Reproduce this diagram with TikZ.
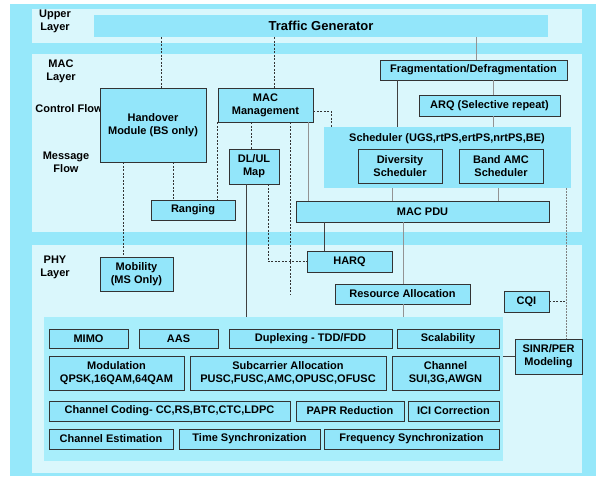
\documentclass[tikz,border=0pt]{standalone}
\usepackage{fontspec}
\setmainfont{Liberation Sans}
\definecolor{outerc}{HTML}{96E8FA}
\definecolor{panelc}{HTML}{DAF7FC}
\definecolor{boxc}{HTML}{93E6FA}
\definecolor{innerc}{HTML}{A8EEFB}
\tikzset{
  boxst/.style={draw=black!80, line width=0.7pt, fill=boxc, inner sep=0pt, align=center,
    font=\fontsize{11}{13}\selectfont\bfseries},
  flatbox/.style={boxst, draw=none},
  lbl/.style={align=center, inner sep=0pt, font=\fontsize{11}{13}\selectfont\bfseries},
  dline/.style={draw=black!75, line width=0.8pt},
  gline/.style={draw=gray!85, line width=0.8pt},
  dsh/.style={draw=black!80, dash pattern=on 2pt off 1.5pt, line width=0.5pt},
  dotln/.style={draw=gray, dash pattern=on 1.5pt off 1.5pt, line width=0.9pt},
}
\newcommand\mkbox[7][]{\node[boxst,#1,minimum width={#5-#3},minimum height={#6-#4}] (#2) at ({(#3+#5)/2},{(#4+#6)/2}) {#7};}
\begin{document}
\begin{tikzpicture}[x=1pt,y=-1pt]
\useasboundingbox (0,0) rectangle (596,476);
% backgrounds
\fill[outerc] (10,4) rectangle (596,476);
\fill[panelc] (32,9) rectangle (582,43);
\fill[panelc] (32,54) rectangle (582,232);
\fill[panelc] (32,245) rectangle (582,473);
% layer labels
\node[lbl] (lupper) at (55,21) {Upper\\Layer};
\node[lbl] (lmac) at (61,71) {MAC\\Layer};
\node[lbl] (lctrl) at (69,109) {Control Flow};
\node[lbl] (lmsg) at (66,162) {Message\\Flow};
\node[lbl] (lphy) at (55,267) {PHY\\Layer};
% upper
\mkbox[flatbox,font=\fontsize{13}{15}\selectfont\bfseries]{tg}{94}{15}{548}{37}{Traffic Generator}
% MAC
\mkbox{ho}{100}{88}{206}{162}{Handover\\Module (BS only)}
\mkbox{mm}{218}{88}{313}{122}{MAC\\Management}
\mkbox{map}{229}{149}{279}{184}{DL/UL\\Map}
\mkbox{rng}{151}{200}{235}{220}{Ranging}
\mkbox{frag}{380}{60}{567}{80}{Fragmentation/Defragmentation}
\mkbox{arq}{419}{95}{560}{116}{ARQ (Selective repeat)}
\mkbox[flatbox]{sch}{324}{127}{571}{188}{}
\node[lbl] (schtitle) at (447,139) {Scheduler (UGS,rtPS,ertPS,nrtPS,BE)};
\mkbox{div}{358}{149}{442}{183}{Diversity\\Scheduler}
\mkbox{amc}{459}{149}{543}{183}{Band AMC\\Scheduler}
\mkbox{pdu}{296}{201}{549}{222}{MAC PDU}
% PHY
\mkbox{mob}{100}{257}{173}{291}{Mobility\\(MS Only)}
\mkbox{harq}{307}{251}{392}{272}{HARQ}
\mkbox{ra}{335}{284}{470}{304}{Resource Allocation}
\mkbox{cqi}{504}{291}{549}{312}{CQI}
\mkbox{sinr}{515}{339}{582}{374}{SINR/PER\\Modeling}
\mkbox[draw=none,fill=innerc]{phy}{44}{317}{503}{461}{}
\mkbox{mimo}{49}{329}{128}{348}{MIMO}
\mkbox{aas}{139}{329}{218}{348}{AAS}
\mkbox{dup}{229}{329}{392}{348}{Duplexing - TDD/FDD}
\mkbox{scal}{397}{329}{499}{348}{Scalability}
\mkbox{modu}{49}{356}{184}{390}{Modulation\\QPSK,16QAM,64QAM}
\mkbox{sub}{190}{356}{386}{390}{Subcarrier Allocation\\PUSC,FUSC,AMC,OPUSC,OFUSC}
\mkbox{chan}{392}{356}{499}{390}{Channel\\SUI,3G,AWGN}
\mkbox{cc}{49}{401}{290}{421}{Channel Coding- CC,RS,BTC,CTC,LDPC}
\mkbox{papr}{296}{401}{404}{421}{PAPR Reduction}
\mkbox{ici}{408}{401}{499}{421}{ICI Correction}
\mkbox{ce}{49}{429}{173}{449}{Channel Estimation}
\mkbox{ts}{179}{429}{320}{449}{Time Synchronization}
\mkbox{fs}{324}{429}{499}{449}{Frequency Synchronization}
% connectors
\draw[gline] (tg.south -| 476,0) -- (frag.north -| 476,0);
\draw[dsh] (tg.south -| 161,0) -- (ho.north -| 161,0);
\draw[dsh] (tg.south -| 274,0) -- (mm.north -| 274,0);
\draw[gline] (frag.south -| 493,0) -- (arq.north -| 493,0);
\draw[gline] (arq.south -| 493,0) -- (sch.north -| 493,0);
\draw[dline] (frag.south -| 397,0) -- (sch.north -| 397,0);
\draw[gline] (sch.south -| 392,0) -- (pdu.north -| 392,0);
\draw[gline] (sch.south -| 498,0) -- (pdu.north -| 498,0);
\draw[gline] (mm.south -| 308,0) -- (pdu.north -| 308,0);
\draw[dsh] (mm.east |- 0,111) -| (sch.north -| 331,0);
\draw[dsh] (mm.south -| 251,0) -- (map.north -| 251,0);
\coordinate (mmend) at (290,295);
\draw[dsh] (mm.south -| mmend) -- (mmend);
\draw[dsh] (mm.south west) -- (rng.north -| mm.south west);
\draw[dsh] (ho.south -| 173,0) -- (rng.north -| 173,0);
\draw[dsh] (ho.south -| 123,0) -- (mob.north -| 123,0);
\draw[dline] (map.south -| 246,0) -- (phy.north -| 246,0);
\draw[dsh] (map.south -| 268,0) |- (harq.west);
\draw[dline] (pdu.south -| 324,0) -- (harq.north -| 324,0);
\draw[gline] (pdu.south -| 403,0) -- (ra.north -| 403,0);
\draw[gline] (ra.south -| 403,0) -- (phy.north -| 403,0);
\draw[dotln] (sch.south -| 566,0) -- (sinr.north -| 566,0);
\coordinate (cqiend) at (566,301);
\draw[dsh] (cqi.east |- cqiend) -- (cqiend);
\draw[dline, line width=0.6pt] (phy.east |- sinr.west) -- (sinr.west);
\end{tikzpicture}
\end{document}
